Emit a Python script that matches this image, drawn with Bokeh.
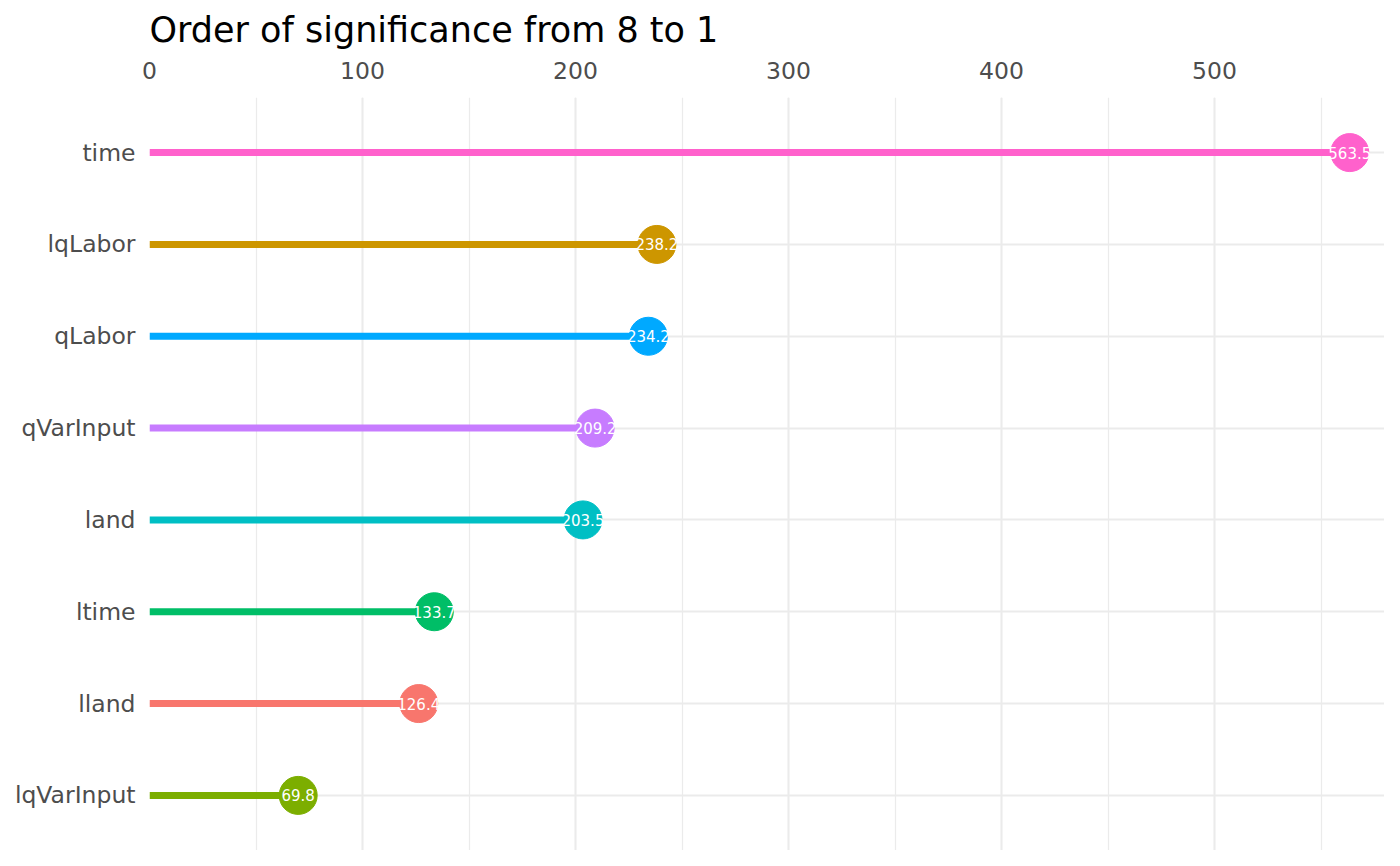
from bokeh.plotting import figure
from bokeh.models import ColumnDataSource, FactorRange, Range1d, SingleIntervalTicker
from bokeh.core.properties import value
from bokeh.embed import file_html
from bokeh.resources import INLINE

# Data (top to bottom in the reference)
variables = ["time", "lqLabor", "qLabor", "qVarInput", "land", "ltime", "lland", "lqVarInput"]
significance = [563.5, 238.2, 234.2, 209.2, 203.5, 133.7, 126.4, 69.8]
colors = ["#FF61CC", "#CD9600", "#00A9FF", "#C77CFF", "#00BFC4", "#00BE67", "#F8766D", "#7CAE00"]
value_labels = ["563.5", "238.2", "234.2", "209.2", "203.5", "133.7", "126.4", "69.8"]
x_ticks_interval = 100

FONT = "DejaVu Sans"

src = ColumnDataSource(dict(
    var=variables,
    val=significance,
    zero=[0] * len(variables),
    color=colors,
    lab=value_labels,
))

factors = list(reversed(variables))

p = figure(
    width=1384, height=850,
    y_range=FactorRange(factors=factors, range_padding=0.025),
    x_range=Range1d(0, 579.8),
    x_axis_location="above",
    output_backend="svg",
    toolbar_location=None,
    min_border_left=149, min_border_right=0,
    min_border_top=97, min_border_bottom=0,
)
p.outline_line_color = None
p.background_fill_color = "white"

# title
p.title.text = "Order of significance from 8 to 1"
p.title.text_font = FONT
p.title.text_font_size = "35px"
p.title.text_font_style = "normal"
p.title.text_color = "black"
p.title.align = "left"
p.title.vertical_align = "top"
p.title.standoff = 14

# axes
p.xaxis.ticker = SingleIntervalTicker(interval=x_ticks_interval, num_minor_ticks=2)
for ax in (p.xaxis[0], p.yaxis[0]):
    ax.axis_line_color = None
    ax.major_tick_line_color = None
    ax.minor_tick_line_color = None
    ax.major_label_text_font = FONT
    ax.major_label_text_font_size = "23.5px"
    ax.major_label_text_color = "#4d4d4d"
p.xaxis.major_label_standoff = 13
p.yaxis.major_label_standoff = 8

# grids
p.xgrid.grid_line_color = "#ebebeb"
p.xgrid.grid_line_width = 2
p.xgrid.minor_grid_line_color = "#ebebeb"
p.xgrid.minor_grid_line_width = 1.2
p.ygrid.grid_line_color = "#ebebeb"
p.ygrid.grid_line_width = 2

# lollipops
p.segment(x0="zero", y0="var", x1="val", y1="var", line_width=7, line_color="color", source=src)
p.scatter(x="val", y="var", size=38, fill_color="color", line_color="color", source=src)
p.text(x="val", y="var", text="lab", text_color="white", text_align="center",
       text_baseline="middle", text_font=value(FONT), text_font_size="15px", source=src)

open("out.html", "w").write(file_html(p, INLINE))
